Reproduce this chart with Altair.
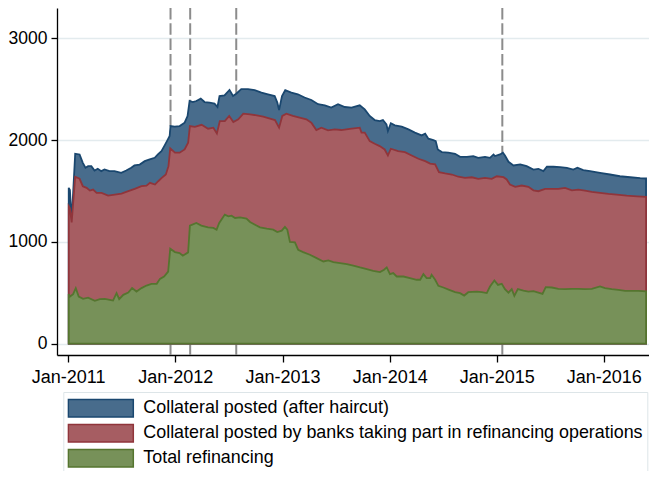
import altair as alt
import pandas as pd

FONT = "Liberation Sans, Arial, sans-serif"

series_names = [
    "Collateral posted (after haircut)",
    "Collateral posted by banks taking part in refinancing operations",
    "Total refinancing",
]
fill_colors = ["#486c8c", "#a65d62", "#779159"]
line_colors = ["#1a476f", "#90353b", "#55752f"]

blue_dates = [
    "2011-01-03", "2011-01-07", "2011-01-13", "2011-01-25", "2011-02-09", "2011-02-20", "2011-03-01",
    "2011-03-10", "2011-03-21", "2011-04-01", "2011-04-12", "2011-04-24", "2011-05-05", "2011-05-22",
    "2011-06-08", "2011-07-01", "2011-07-18", "2011-08-04", "2011-08-15", "2011-09-02", "2011-09-19",
    "2011-10-06", "2011-10-23", "2011-11-03", "2011-11-15", "2011-11-26", "2011-12-07", "2011-12-13",
    "2011-12-16", "2011-12-30", "2012-01-16", "2012-02-02", "2012-02-12", "2012-02-19", "2012-03-01",
    "2012-03-13", "2012-03-28", "2012-04-10", "2012-04-27", "2012-05-14", "2012-05-24", "2012-05-31",
    "2012-06-17", "2012-07-04", "2012-07-16", "2012-07-27", "2012-08-13", "2012-09-05", "2012-09-28",
    "2012-10-21", "2012-11-12", "2012-12-05", "2012-12-14", "2012-12-20", "2012-12-30", "2013-01-10",
    "2013-01-31", "2013-02-22", "2013-03-17", "2013-04-09", "2013-05-02", "2013-05-25", "2013-06-16",
    "2013-07-09", "2013-08-01", "2013-08-24", "2013-09-21", "2013-10-08", "2013-10-25", "2013-11-11",
    "2013-11-28", "2013-12-09", "2013-12-21", "2013-12-26", "2014-01-05", "2014-01-19", "2014-02-11",
    "2014-03-06", "2014-03-28", "2014-04-20", "2014-05-02", "2014-05-13", "2014-05-30", "2014-06-07",
    "2014-06-14", "2014-06-28", "2014-07-20", "2014-08-12", "2014-08-29", "2014-09-21", "2014-10-13",
    "2014-10-30", "2014-11-22", "2014-12-09", "2014-12-21", "2014-12-26", "2015-01-12", "2015-01-22",
    "2015-01-29", "2015-02-10", "2015-02-27", "2015-03-22", "2015-04-13", "2015-05-06", "2015-05-23",
    "2015-06-09", "2015-06-21", "2015-07-13", "2015-08-05", "2015-08-28", "2015-09-19", "2015-10-03",
    "2015-10-23", "2015-11-15", "2015-12-19", "2016-01-22", "2016-02-25", "2016-03-31", "2016-05-04",
    "2016-05-24",
]
blue_values = [
    1531, 1510, 1205, 1866, 1859, 1777, 1728,
    1744, 1744, 1701, 1718, 1695, 1711, 1695,
    1695, 1679, 1701, 1728, 1751, 1760, 1793,
    1810, 1826, 1859, 1892, 1948, 2007, 2040,
    2138, 2132, 2138, 2171, 2236, 2384, 2374,
    2384, 2407, 2374, 2368, 2358, 2325, 2433,
    2440, 2493, 2433, 2456, 2500, 2500, 2490,
    2467, 2450, 2433, 2368, 2296, 2433, 2490,
    2467, 2450, 2418, 2394, 2352, 2342, 2319,
    2352, 2325, 2319, 2342, 2302, 2237, 2197,
    2187, 2197, 2155, 2089, 2165, 2145, 2132,
    2105, 2073, 2046, 2063, 2014, 2000, 1990,
    1908, 1882, 1876, 1866, 1836, 1836, 1843,
    1826, 1836, 1826, 1859, 1843, 1859, 1876,
    1849, 1787, 1751, 1761, 1744, 1711, 1718,
    1695, 1738, 1738, 1734, 1728, 1711, 1728,
    1705, 1695, 1679, 1662, 1645, 1635, 1626,
    1623,
]

red_dates = [
    "2011-01-03", "2011-01-07", "2011-01-13", "2011-01-25", "2011-02-09", "2011-02-20", "2011-03-05",
    "2011-03-16", "2011-03-27", "2011-04-08", "2011-04-25", "2011-05-17", "2011-06-09", "2011-07-02",
    "2011-07-25", "2011-08-16", "2011-09-08", "2011-09-25", "2011-10-07", "2011-10-24", "2011-11-04",
    "2011-11-16", "2011-11-30", "2011-12-09", "2011-12-15", "2011-12-31", "2012-01-16", "2012-02-02",
    "2012-02-14", "2012-02-20", "2012-03-08", "2012-03-31", "2012-04-22", "2012-05-10", "2012-05-22",
    "2012-06-01", "2012-06-18", "2012-07-03", "2012-07-17", "2012-08-03", "2012-08-20", "2012-09-12",
    "2012-10-05", "2012-10-27", "2012-11-19", "2012-12-06", "2012-12-20", "2012-12-31", "2013-01-14",
    "2013-02-05", "2013-02-28", "2013-03-23", "2013-04-09", "2013-04-26", "2013-05-13", "2013-06-05",
    "2013-06-28", "2013-07-20", "2013-08-18", "2013-09-21", "2013-09-27", "2013-10-08", "2013-10-25",
    "2013-11-11", "2013-11-28", "2013-12-15", "2013-12-26", "2014-01-05", "2014-01-30", "2014-02-22",
    "2014-03-17", "2014-04-09", "2014-05-02", "2014-05-19", "2014-06-05", "2014-06-18", "2014-07-09",
    "2014-08-01", "2014-08-23", "2014-09-15", "2014-10-08", "2014-10-30", "2014-11-22", "2014-12-15",
    "2015-01-01", "2015-01-24", "2015-02-04", "2015-02-15", "2015-03-05", "2015-03-27", "2015-04-19",
    "2015-05-06", "2015-05-23", "2015-06-15", "2015-07-08", "2015-07-30", "2015-08-22", "2015-09-14",
    "2015-10-06", "2015-10-29", "2015-11-21", "2015-12-19", "2016-01-17", "2016-02-14", "2016-03-19",
    "2016-04-23", "2016-05-24",
]
red_values = [
    1350, 1330, 1192, 1640, 1620, 1547, 1531,
    1504, 1514, 1482, 1482, 1455, 1465, 1475,
    1498, 1521, 1547, 1553, 1580, 1563, 1596,
    1629, 1662, 1744, 1918, 1876, 1876, 1908,
    1974, 2138, 2130, 2150, 2112, 2122, 2066,
    2187, 2187, 2237, 2177, 2204, 2260, 2253,
    2243, 2230, 2211, 2197, 2122, 2237, 2260,
    2237, 2220, 2204, 2171, 2099, 2122, 2096,
    2105, 2099, 2110, 2122, 2073, 2073, 1990,
    1964, 1941, 1908, 1849, 1915, 1892, 1882,
    1849, 1817, 1793, 1770, 1761, 1685, 1672,
    1662, 1640, 1629, 1635, 1620, 1629, 1620,
    1645, 1636, 1613, 1563, 1541, 1554, 1541,
    1507, 1498, 1521, 1521, 1521, 1531, 1507,
    1514, 1504, 1492, 1482, 1472, 1465, 1455,
    1448, 1442,
]

green_dates = [
    "2011-01-03", "2011-01-07", "2011-01-18", "2011-01-27", "2011-02-06", "2011-02-21", "2011-03-10",
    "2011-04-02", "2011-04-19", "2011-05-06", "2011-05-23", "2011-06-03", "2011-06-15", "2011-06-24",
    "2011-07-08", "2011-07-25", "2011-08-07", "2011-08-22", "2011-09-08", "2011-09-25", "2011-10-12",
    "2011-10-30", "2011-11-10", "2011-11-24", "2011-12-08", "2011-12-15", "2011-12-31", "2012-01-16",
    "2012-01-27", "2012-02-14", "2012-02-20", "2012-03-13", "2012-03-30", "2012-04-22", "2012-05-10",
    "2012-05-21", "2012-05-30", "2012-06-18", "2012-06-30", "2012-07-11", "2012-07-23", "2012-08-09",
    "2012-08-31", "2012-09-12", "2012-09-29", "2012-10-16", "2012-11-08", "2012-11-30", "2012-12-14",
    "2012-12-29", "2013-01-09", "2013-01-17", "2013-01-26", "2013-02-12", "2013-02-23", "2013-03-12",
    "2013-04-04", "2013-04-27", "2013-05-20", "2013-06-06", "2013-06-23", "2013-07-16", "2013-08-08",
    "2013-08-30", "2013-09-22", "2013-10-15", "2013-11-06", "2013-11-29", "2013-12-13", "2013-12-22",
    "2014-01-02", "2014-01-13", "2014-01-25", "2014-02-17", "2014-03-11", "2014-04-03", "2014-04-15",
    "2014-04-26", "2014-05-07", "2014-05-19", "2014-05-24", "2014-06-05", "2014-06-16", "2014-07-03",
    "2014-07-23", "2014-08-12", "2014-08-29", "2014-09-12", "2014-09-26", "2014-10-25", "2014-11-11",
    "2014-11-28", "2014-12-09", "2014-12-24", "2015-01-05", "2015-01-18", "2015-01-29", "2015-02-10",
    "2015-02-21", "2015-03-02", "2015-03-14", "2015-04-02", "2015-04-19", "2015-05-06", "2015-05-23",
    "2015-06-06", "2015-06-17", "2015-07-08", "2015-07-30", "2015-08-22", "2015-09-14", "2015-10-06",
    "2015-10-29", "2015-11-21", "2015-12-19", "2016-01-05", "2016-01-28", "2016-02-20", "2016-03-14",
    "2016-04-05", "2016-04-28", "2016-05-24",
]
green_values = [
    487, 463, 487, 546, 463, 440, 453,
    421, 437, 440, 430, 424, 497, 437,
    480, 502, 546, 512, 546, 571, 588,
    588, 637, 660, 709, 933, 900, 891,
    864, 897, 1160, 1186, 1160, 1143, 1137,
    1120, 1186, 1268, 1251, 1258, 1235, 1241,
    1229, 1196, 1169, 1143, 1130, 1120, 1097,
    1110, 1147, 1120, 999, 995, 923, 900,
    874, 841, 808, 818, 802, 792, 782,
    768, 749, 733, 716, 703, 726, 749,
    684, 694, 660, 660, 644, 628, 628,
    684, 644, 644, 677, 628, 568, 552,
    529, 506, 497, 473, 506, 512, 506,
    497, 562, 621, 578, 588, 536, 502,
    536, 470, 536, 522, 512, 516, 502,
    490, 556, 552, 539, 536, 539, 539,
    536, 539, 562, 546, 536, 529, 519,
    519, 519, 515,
]

event_dates = ["2011-12-16", "2012-02-21", "2012-07-27", "2015-01-20"]
tick_years = [2011, 2012, 2013, 2014, 2015, 2016]
y_ticks = [0, 1000, 2000, 3000]

frames = []
for name, d, v in zip(series_names, [blue_dates, red_dates, green_dates],
                      [blue_values, red_values, green_values]):
    frames.append(pd.DataFrame({"date": d, "value": v, "series": name}))
df = pd.concat(frames, ignore_index=True)
events = pd.DataFrame({"date": event_dates})

x_scale = alt.Scale(
    type="utc",
    domain=[alt.DateTime(year=2010, month=11, date=24, utc=True),
            alt.DateTime(year=2016, month=6, date=3, utc=True)],
    nice=False,
)
y_scale = alt.Scale(domain=[-111, 3297.6], nice=False, zero=False)

x_axis = alt.Axis(
    title=None,
    values=[alt.DateTime(year=yy, month=1, date=1, utc=True) for yy in tick_years],
    labelExpr="utcFormat(datum.value, '%b-%Y')",
    grid=False,
    tickSize=7,
    tickWidth=1.3,
    tickColor="#000000",
    domainColor="#000000",
    domainWidth=1.3,
    labelFont=FONT,
    labelFontSize=18,
    labelColor="#000000",
    labelPadding=6,
    labelAlign="center",
    labelFlush=False,
    labelOverlap=False,
)
y_axis = alt.Axis(
    title=None,
    values=y_ticks,
    format="d",
    grid=True,
    gridColor="#e3ebee",
    gridWidth=1.5,
    tickSize=6,
    tickWidth=1.3,
    tickColor="#000000",
    domainColor="#000000",
    domainWidth=1.3,
    labelFont=FONT,
    labelFontSize=17.5,
    labelColor="#000000",
    labelPadding=4,
    labelFlush=False,
    labelOverlap=False,
)

legend = alt.Legend(
    title=None,
    orient="none",
    legendX=6.3,
    legendY=384,
    direction="vertical",
    symbolType="M-1,-0.27H1V0.27H-1Z",
    symbolSize=4225,
    symbolStrokeWidth=1.5,
    symbolOpacity=1,
    labelFont=FONT,
    labelFontSize=17.9,
    labelColor="#000000",
    labelOffset=9,
    labelLimit=1000,
    clipHeight=24.5,
    rowPadding=0,
    padding=4,
    strokeColor="#dde5e8",
    fillColor="#ffffff",
)

fill_scale = alt.Scale(domain=series_names, range=fill_colors)
stroke_scale = alt.Scale(domain=series_names, range=line_colors)

rules = alt.Chart(events).mark_rule(
    color="#8c8c8c", strokeWidth=2, strokeDash=[11.5, 3.8]
).encode(x=alt.X("date:T", scale=x_scale, axis=x_axis))


def area_layer(name):
    return alt.Chart(df).transform_filter(alt.datum.series == name).mark_area(
        opacity=1, strokeWidth=1.8, interpolate="linear"
    ).encode(
        x=alt.X("date:T", scale=x_scale, axis=x_axis),
        y=alt.Y("value:Q", scale=y_scale, axis=y_axis, stack=None),
        y2=alt.datum(0),
        fill=alt.Fill("series:N", scale=fill_scale, legend=legend),
        stroke=alt.Stroke("series:N", scale=stroke_scale, legend=legend),
    )


chart = alt.layer(
    rules,
    area_layer(series_names[0]),
    area_layer(series_names[1]),
    area_layer(series_names[2]),
).properties(
    width=592,
    height=347,
    autosize=alt.AutoSizeParams(type="none"),
    padding={"left": 49, "top": 0, "right": 0, "bottom": 116},
    background="#ffffff",
).configure_view(stroke="transparent")

chart.save("out.html", embed_options={"renderer": "svg", "actions": False})
